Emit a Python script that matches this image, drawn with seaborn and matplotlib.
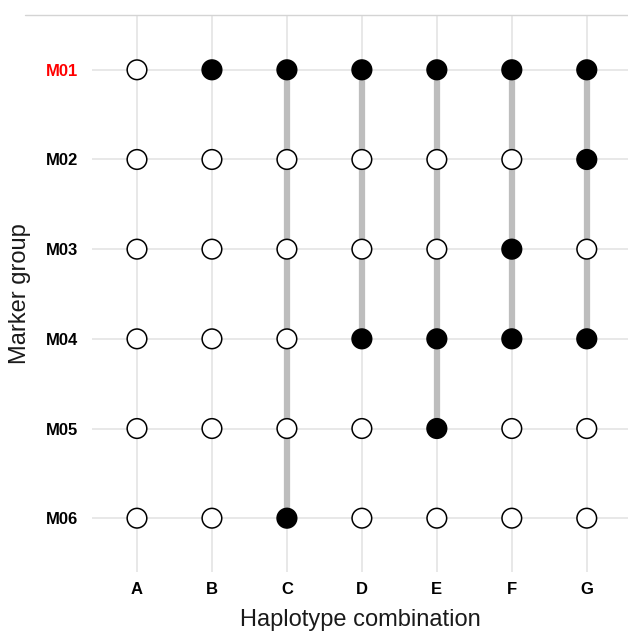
import matplotlib
matplotlib.use("Agg")
import matplotlib.pyplot as plt
import seaborn as sns
import pandas as pd
import numpy as np
from matplotlib.lines import Line2D

combinations = ["A", "B", "C", "D", "E", "F", "G"]
marker_groups = ["M01", "M02", "M03", "M04", "M05", "M06"]
# rows: marker groups, columns: haplotype combinations (1 = present)
presence = [
    [0, 1, 1, 1, 1, 1, 1],  # M01
    [0, 0, 0, 0, 0, 0, 1],  # M02
    [0, 0, 0, 0, 0, 1, 0],  # M03
    [0, 0, 0, 1, 1, 1, 1],  # M04
    [0, 0, 0, 0, 1, 0, 0],  # M05
    [0, 0, 1, 0, 0, 0, 0],  # M06
]
highlight_group = "M01"

rows = []
for i, mg in enumerate(marker_groups):
    for j, cb in enumerate(combinations):
        rows.append({"combination": cb, "marker": mg, "x": j, "y": i,
                     "present": "yes" if presence[i][j] else "no"})
df = pd.DataFrame(rows)

sns.set_theme(style="white")
plt.rcParams["font.family"] = ["Liberation Sans", "DejaVu Sans"]

fig = plt.figure(figsize=(6.28, 6.32), dpi=100)
ax = fig.add_axes([92 / 628, 1 - 572 / 632, 1 - 92 / 628, (572 - 16) / 632])

# grid
ax.set_axisbelow(True)
ax.grid(True, color="#e6e6e6", linewidth=1.3)

# connecting segments
seg = df[df.present == "yes"].groupby("x")["y"].agg(["min", "max"]).reset_index()
seg = seg[seg["max"] > seg["min"]]
ax.vlines(seg["x"], seg["min"], seg["max"], colors="#bdbdbd", linewidth=4.5, zorder=2)

sns.scatterplot(data=df, x="x", y="y", hue="present",
                palette={"yes": "black", "no": "white"},
                edgecolor="black", linewidth=1.1, s=200, legend=False,
                ax=ax, zorder=3)

ax.set_xlim(-0.6, 6.55)
ax.set_ylim(5.6, -0.6)
ax.set_xticks(range(len(combinations)))
ax.set_xticklabels(combinations, fontsize=12, fontweight="bold", color="black")
ax.set_yticks(range(len(marker_groups)))
ax.set_yticklabels(marker_groups, fontsize=12, fontweight="bold", color="black")
for lbl in ax.get_yticklabels():
    if lbl.get_text() == highlight_group:
        lbl.set_color("#ff0000")
ax.tick_params(axis="both", length=0)
ax.tick_params(axis="x", pad=7)
ax.tick_params(axis="y", pad=10)
ax.set_xlabel("Haplotype combination", fontsize=17, labelpad=9, color="#1a1a1a")
ax.set_ylabel("Marker group", fontsize=17, labelpad=11, color="#1a1a1a")
for s in ax.spines.values():
    s.set_visible(False)

# thin separator line at the top
fig.add_artist(Line2D([25 / 628, 1], [1 - 15 / 632, 1 - 15 / 632],
                      color="#d4d4d4", linewidth=1.0, transform=fig.transFigure))

fig.savefig("out.png", dpi=100)
